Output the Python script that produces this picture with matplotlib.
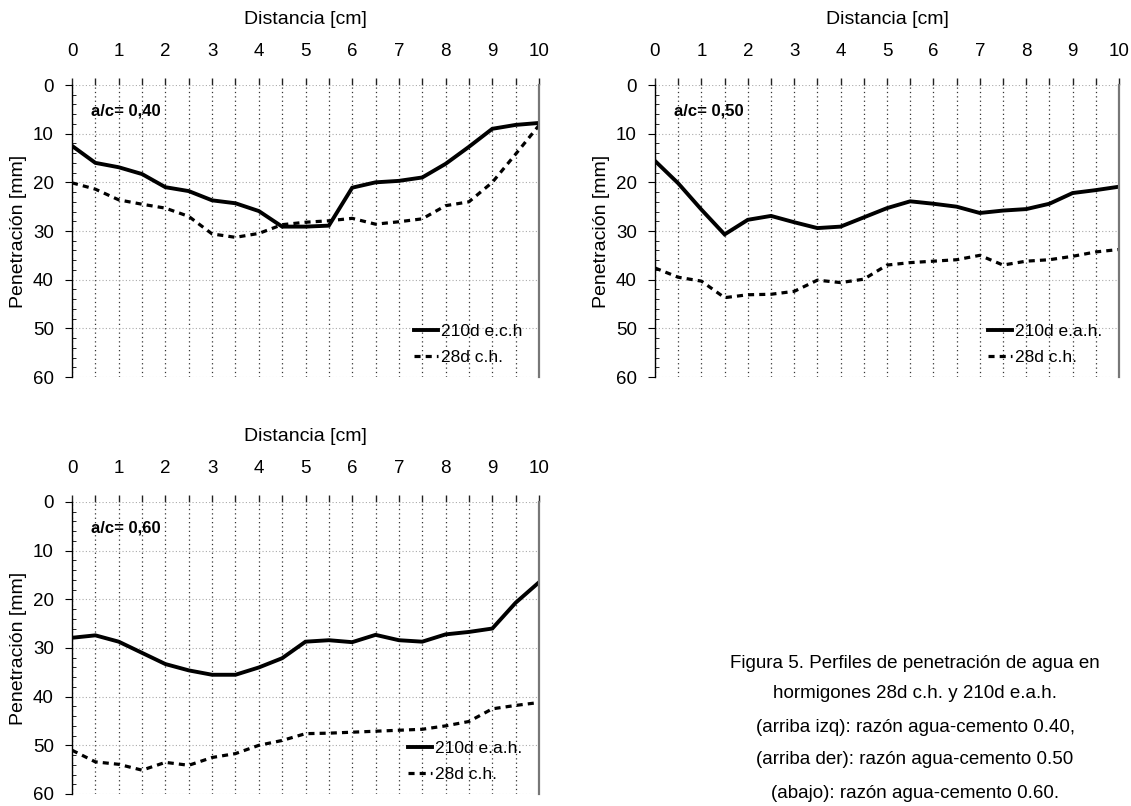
import matplotlib
matplotlib.use("Agg")
import matplotlib.pyplot as plt
import numpy as np
from matplotlib.ticker import MultipleLocator

plt.rcParams['font.family'] = ['Liberation Sans', 'DejaVu Sans']

dist = [0, 0.5, 1, 1.5, 2, 2.5, 3, 3.5, 4, 4.5, 5, 5.5, 6, 6.5, 7, 7.5, 8, 8.5, 9, 9.5, 10]

p040_210 = [12.5, 16.0, 16.9, 18.3, 21.0, 21.8, 23.7, 24.3, 25.9, 29.1, 29.1, 28.9, 21.1, 20.0, 19.7, 19.0, 16.2, 12.7, 9.0, 8.2, 7.8]
p040_28 = [20.1, 21.4, 23.6, 24.5, 25.3, 27.0, 30.6, 31.3, 30.5, 28.7, 28.2, 27.9, 27.4, 28.6, 28.1, 27.5, 24.8, 24.0, 20.0, 14.2, 8.3]

p050_210 = [15.6, 20.2, 25.6, 30.7, 27.7, 26.9, 28.2, 29.4, 29.1, 27.2, 25.3, 23.9, 24.4, 25.0, 26.3, 25.8, 25.5, 24.4, 22.2, 21.6, 20.9]
p050_28 = [37.6, 39.5, 40.3, 43.7, 43.1, 43.0, 42.4, 40.1, 40.6, 39.9, 37.0, 36.5, 36.2, 35.9, 35.0, 37.0, 36.2, 35.9, 35.2, 34.3, 33.8]

p060_210 = [27.9, 27.4, 28.7, 31.0, 33.3, 34.6, 35.5, 35.5, 34.0, 32.1, 28.7, 28.4, 28.8, 27.3, 28.4, 28.7, 27.2, 26.7, 26.0, 20.7, 16.5]
p060_28 = [51.0, 53.4, 53.9, 55.1, 53.5, 54.1, 52.5, 51.7, 50.0, 49.0, 47.6, 47.5, 47.3, 47.1, 46.9, 46.7, 46.0, 45.1, 42.5, 41.8, 41.2]

panels = [
    ("a/c= 0,40", p040_210, p040_28, "210d e.c.h", "28d c.h."),
    ("a/c= 0,50", p050_210, p050_28, "210d e.a.h.", "28d c.h."),
    ("a/c= 0,60", p060_210, p060_28, "210d e.a.h.", "28d c.h."),
]

xticks = list(range(0, 11))
yticks = [0, 10, 20, 30, 40, 50, 60]

caption = [
    "Figura 5. Perfiles de penetración de agua en",
    "hormigones 28d c.h. y 210d e.a.h.",
    "(arriba izq): razón agua-cemento 0.40,",
    "(arriba der): razón agua-cemento 0.50",
    "(abajo): razón agua-cemento 0.60.",
]

W, H = 1131, 806
fig = plt.figure(figsize=(W / 100, H / 100), dpi=100)

rects = [
    (72, 539, 85, 377),
    (655, 1119, 85, 377),
    (72, 539, 502, 794),
]

for (label, s210, s28, l210, l28), (x0, x1, y0, y1) in zip(panels, rects):
    ax = fig.add_axes([x0 / W, 1 - y1 / H, (x1 - x0) / W, (y1 - y0) / H])
    ax.set_xlim(0, 10)
    ax.set_ylim(60, 0)
    ax.xaxis.tick_top()
    ax.xaxis.set_label_position('top')
    ax.set_xticks(xticks)
    ax.xaxis.set_minor_locator(MultipleLocator(0.5))
    ax.set_yticks(yticks)
    ax.yaxis.set_minor_locator(MultipleLocator(2))
    ax.tick_params(axis='x', which='both', direction='out', length=5, width=1.0,
                   color='#222222', labelsize=13.5, pad=13)
    ax.tick_params(axis='y', which='major', direction='out', length=5, width=0.8,
                   labelsize=13.5, pad=8)
    ax.tick_params(axis='y', which='minor', direction='in', length=3, width=0.6)
    for sp in ['top', 'bottom']:
        ax.spines[sp].set_visible(False)
    ax.spines['left'].set_linewidth(1.0)
    ax.spines['right'].set_linewidth(1.6)
    ax.spines['right'].set_color('#777777')
    ax.grid(True, axis='x', which='both', linestyle=(0, (1, 2.5)), color='#333333', linewidth=0.9)
    ax.grid(True, axis='y', which='major', linestyle=(0, (1, 2)), color='#aaaaaa', linewidth=0.8)
    ax.set_xlabel("Distancia [cm]", fontsize=14, labelpad=14)
    ax.set_ylabel("Penetración [mm]", fontsize=14, labelpad=4)

    ax.plot(dist, s210, color='black', linewidth=2.8, solid_joinstyle='miter', label=l210)
    ax.plot(dist, s28, color='black', linewidth=2.3, linestyle=(0, (1.9, 1.6)), label=l28)

    ax.text(0.04, 0.911, label, transform=ax.transAxes, fontsize=12.0,
            fontweight='bold', ha='left', va='center')

    ax.legend(loc='lower right', frameon=False, fontsize=12.5, handlelength=1.4,
              handletextpad=0.17, borderaxespad=0.3, labelspacing=0.6,
              bbox_to_anchor=(0.99, 0.0))

ys = [664, 694, 727, 760, 794]
for txt, y in zip(caption, ys):
    fig.text(915 / W, 1 - y / H, txt, fontsize=13.5, ha='center', va='center')

fig.savefig("out.png", dpi=100)
